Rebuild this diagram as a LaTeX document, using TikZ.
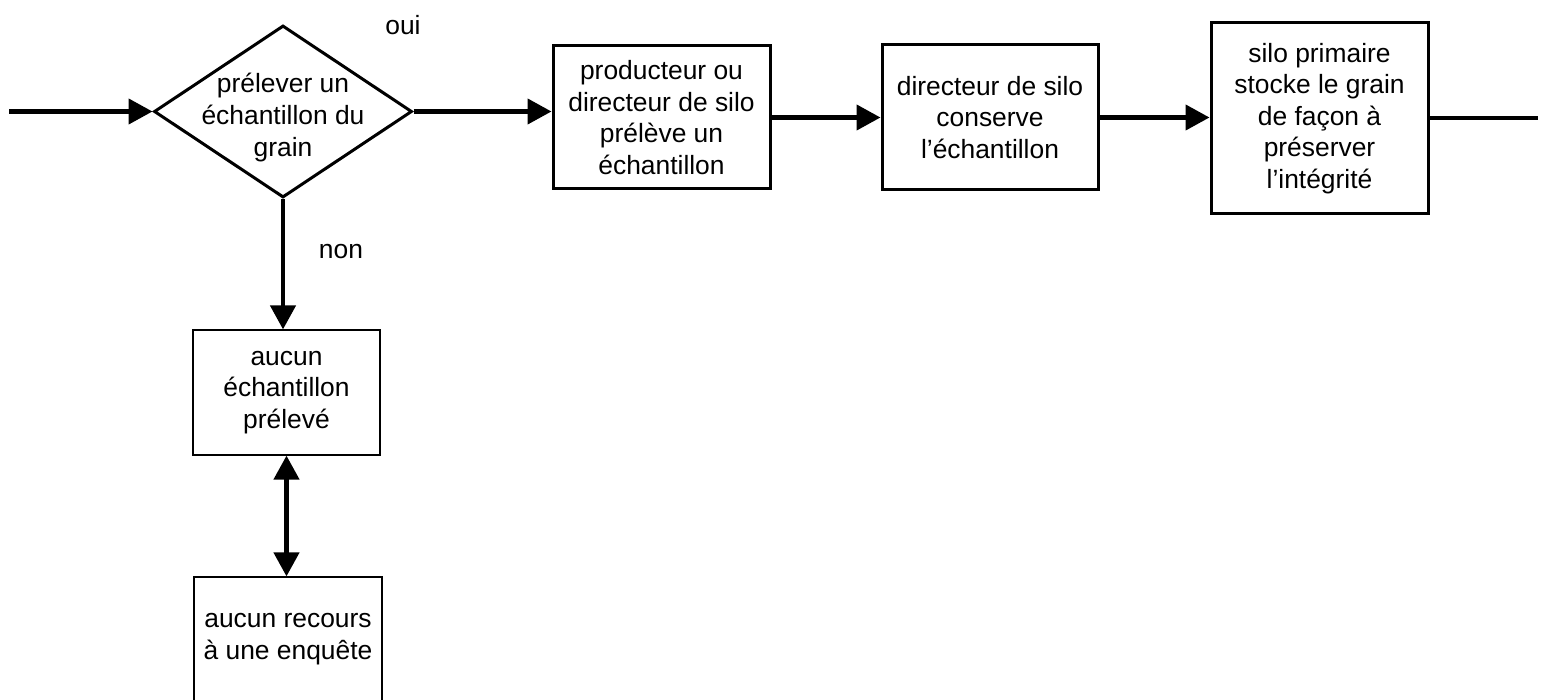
\documentclass[tikz,border=0pt]{standalone}
\usepackage{fontspec}
\setmainfont{Liberation Sans}
\usetikzlibrary{arrows.meta,positioning,shapes.geometric}

\begin{document}
\begin{tikzpicture}[x=0.5pt, y=-0.5pt,
  every node/.style={font=\fontsize{13.2}{15.8}\selectfont, align=center, inner sep=0pt},
  decision/.style={diamond, draw, line width=1.5pt, minimum width=129pt, minimum height=86pt},
  stepbox/.style={rectangle, draw, line width=1.5pt},
  thinbox/.style={rectangle, draw, line width=0.6pt},
  flow/.style={line width=2.2pt, -{Triangle[length=12pt,width=12.5pt]}},
  twoway/.style={line width=2.2pt, {Triangle[length=12pt,width=12.5pt]}-{Triangle[length=12pt,width=12.5pt]}}]

 \useasboundingbox (0,0) rectangle (1552,700);

 \node[decision] (decide) at (283,111.5) {};
 \node (decidetext) at (283,117.5) {prélever un\\échantillon du\\grain};
 \node (yes) at (403,25.5) {oui};
 \node (no) at (341,252) {non};

 \node[stepbox, minimum width=108.5pt, minimum height=71.5pt] (sample) at (661.5,117.5)
  {producteur ou\\directeur de silo\\prélève un\\échantillon};
 \node[stepbox, minimum width=108pt, minimum height=72.5pt] (keep) at (990,117.5)
  {directeur de silo\\conserve\\l’échantillon};
 \node[stepbox, minimum width=108.5pt, minimum height=95.5pt] (store) at (1319.5,118.5)
  {silo primaire\\stocke le grain\\de façon à\\préserver\\l’intégrité};

 \node[thinbox, minimum width=93.5pt, minimum height=62.5pt] (nosample) at (286.5,392.5)
  {aucun\\échantillon\\prélevé};
 \node[thinbox, minimum width=94pt, minimum height=62pt] (norecourse) at (288,639)
  {aucun recours\\à une enquête};

 \coordinate (in) at (9,111.5);
 \coordinate (out) at (1538,118);

 \draw[flow] (in) -- (decide.west);
 \draw[flow] (decide.east) -- (decide.east -| sample.west);
 \draw[flow] (sample.east) -- (keep.west);
 \draw[flow] (keep.east) -- (keep.east -| store.west);
 \draw[line width=1.8pt] (store.east |- out) -- (out);
 \draw[flow] (decide.south) -- (decide.south |- nosample.north);
 \draw[twoway] (nosample.south) -- (nosample.south |- norecourse.north);

\end{tikzpicture}
\end{document}
